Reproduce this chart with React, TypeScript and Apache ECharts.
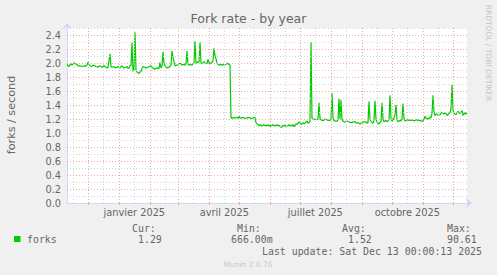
import React, { useEffect, useRef } from "react";
import * as echarts from "echarts";

// ---- data ----
const DAY = 86400000;
const START = Date.UTC(2024, 10, 9, 16);
const END = START + 400 * DAY;

// [day offset from START, forks per second]
const forksLate2024: [number, number][] = [
  [0, 1.98], [1, 1.96], [2, 1.95], [3, 1.98], [4, 1.99], [5, 1.97], [7, 2.0], [8, 1.99], [10, 1.98],
  [11, 1.96], [13, 1.96], [15, 1.95], [17, 1.96], [18, 1.95], [20, 1.97], [21, 2.01], [22, 1.98],
  [23, 1.96], [25, 1.95], [26, 1.97], [28, 1.96], [29, 1.95], [31, 1.94], [32, 1.96], [34, 1.95],
  [35, 1.94], [37, 1.96], [38, 1.95], [40, 1.93], [41, 1.94], [43, 2.13], [44, 1.95], [45, 1.94],
  [47, 1.95], [48, 1.93], [50, 1.94], [51, 1.95], [53, 1.93], [54, 1.95], [55, 1.96], [56, 1.94],
  [57, 1.93], [59, 1.94], [60, 1.95], [61, 1.92], [62, 1.93], [63, 1.96], [64, 1.97], [65, 2.29],
  [66, 1.88], [67, 1.9], [68, 2.44], [69, 1.9], [70, 1.87], [71, 1.86], [72, 1.85], [73, 1.87],
  [74, 1.88], [75, 1.92], [76, 1.95], [78, 1.94], [79, 1.93], [81, 1.94], [82, 1.95], [84, 1.96],
  [85, 1.94], [86, 1.93], [88, 1.91], [89, 1.92], [90, 1.93], [92, 1.92], [93, 2.01], [94, 1.93],
  [95, 1.95], [96, 2.16], [97, 1.99], [98, 1.96], [99, 1.93], [100, 1.94], [101, 1.93], [103, 1.95],
];
const forksSpring2025: [number, number][] = [
  [104, 1.97], [105, 2.17], [106, 2.08], [107, 2.02], [108, 1.96], [110, 1.97], [111, 1.97],
  [112, 1.99], [114, 1.99], [115, 1.97], [116, 1.98], [118, 1.97], [119, 1.99], [120, 2.17],
  [121, 1.98], [122, 1.97], [123, 1.98], [125, 1.97], [126, 1.99], [127, 2.0], [128, 2.31],
  [129, 1.99], [130, 2.0], [131, 2.02], [132, 2.01], [133, 2.3], [134, 2.0], [135, 1.99],
  [136, 2.0], [137, 2.02], [138, 2.0], [140, 1.99], [141, 2.05], [142, 2.01], [143, 1.99],
  [144, 2.0], [145, 2.01], [146, 2.03], [147, 2.21], [148, 2.1], [149, 2.06], [150, 2.0],
  [151, 1.98], [152, 1.97], [154, 1.98], [155, 1.97], [157, 1.98], [158, 1.97], [159, 1.98],
  [160, 2.0], [161, 1.99], [162, 1.98], [163, 1.97], [164, 1.21], [165, 1.22], [167, 1.21],
  [168, 1.22], [170, 1.22], [171, 1.21], [172, 1.24], [173, 1.21], [175, 1.22], [176, 1.22],
  [178, 1.21], [179, 1.21], [181, 1.22], [182, 1.22], [184, 1.21], [185, 1.21], [187, 1.22],
  [188, 1.22],
];
const forksSummer2025: [number, number][] = [
  [189, 1.15], [190, 1.13], [191, 1.12], [192, 1.1], [193, 1.12], [194, 1.11], [195, 1.09],
  [196, 1.11], [197, 1.12], [198, 1.1], [199, 1.11], [200, 1.1], [201, 1.12], [202, 1.1],
  [203, 1.11], [204, 1.09], [205, 1.11], [206, 1.12], [207, 1.1], [208, 1.11], [209, 1.1],
  [210, 1.12], [211, 1.1], [212, 1.11], [213, 1.1], [214, 1.08], [215, 1.09], [216, 1.11],
  [217, 1.1], [218, 1.11], [219, 1.09], [220, 1.1], [221, 1.1], [222, 1.12], [223, 1.1],
  [224, 1.11], [225, 1.1], [226, 1.12], [227, 1.09], [228, 1.11], [229, 1.13], [230, 1.12],
  [231, 1.14], [232, 1.16], [233, 1.14], [234, 1.12], [235, 1.13], [236, 1.15], [237, 1.13],
  [238, 1.14], [239, 1.16], [240, 1.17], [241, 1.14], [242, 1.15], [243, 1.17], [244, 2.3],
  [245, 1.21], [246, 1.2], [247, 1.19], [248, 1.2], [250, 1.19], [251, 1.2], [252, 1.43],
  [253, 1.21], [254, 1.19], [255, 1.18], [257, 1.18], [258, 1.2], [260, 1.19], [261, 1.18],
  [263, 1.18], [264, 1.2], [265, 1.57], [266, 1.21], [267, 1.18], [268, 1.17], [270, 1.17],
  [271, 1.19], [272, 1.49], [273, 1.2], [274, 1.47], [275, 1.19], [276, 1.17], [277, 1.16],
  [279, 1.16], [280, 1.17], [282, 1.16], [283, 1.15], [285, 1.15], [286, 1.16], [288, 1.16],
];
const forksAutumn2025: [number, number][] = [
  [289, 1.14], [291, 1.15], [292, 1.14], [293, 1.13], [294, 1.14], [296, 1.15], [297, 1.16],
  [299, 1.16], [300, 1.14], [301, 1.15], [302, 1.45], [303, 1.2], [304, 1.17], [305, 1.15],
  [306, 1.14], [307, 1.18], [308, 1.46], [309, 1.2], [310, 1.16], [311, 1.14], [312, 1.13],
  [313, 1.15], [314, 1.16], [315, 1.43], [316, 1.2], [317, 1.16], [318, 1.17], [319, 1.18],
  [320, 1.16], [321, 1.17], [322, 1.2], [323, 1.54], [324, 1.2], [325, 1.17], [326, 1.19],
  [327, 1.22], [328, 1.26], [329, 1.4], [330, 1.2], [331, 1.16], [332, 1.17], [333, 1.18],
  [334, 1.17], [335, 1.2], [336, 1.42], [337, 1.2], [338, 1.17], [339, 1.18], [341, 1.19],
  [342, 1.18], [344, 1.18], [345, 1.19], [347, 1.17], [348, 1.18], [350, 1.19], [351, 1.18],
  [353, 1.18], [354, 1.17], [356, 1.17], [357, 1.2], [358, 1.24], [359, 1.21], [360, 1.2],
  [361, 1.21], [362, 1.2], [363, 1.23], [364, 1.22], [365, 1.28], [366, 1.54], [367, 1.3],
  [368, 1.25], [369, 1.27], [370, 1.27], [371, 1.25], [373, 1.26], [374, 1.28], [375, 1.3],
  [376, 1.28], [377, 1.27], [378, 1.29], [379, 1.28], [380, 1.25], [381, 1.26], [382, 1.28],
  [383, 1.29], [384, 1.35], [385, 1.69], [386, 1.33], [387, 1.28], [388, 1.27], [389, 1.26],
  [390, 1.29], [391, 1.31], [392, 1.29], [393, 1.28], [394, 1.3], [395, 1.32], [396, 1.25],
  [397, 1.27], [398, 1.29], [399, 1.27], [400, 1.29],
];

// x axis label months: [year, monthIndex]
const xLabelMonths: [number, number][] = [[2025, 0], [2025, 3], [2025, 6], [2025, 9]];
const xLabels = ["janvier 2025", "avril 2025", "juillet 2025", "octobre 2025"];

// grid months (month starts in red, mid-months in gray)
const gridMonths: [number, number][] = [
  [2024, 10], [2024, 11], [2025, 0], [2025, 1], [2025, 2], [2025, 3], [2025, 4], [2025, 5],
  [2025, 6], [2025, 7], [2025, 8], [2025, 9], [2025, 10], [2025, 11],
];

const Y_MAX = 2.5;
const Y_STEP = 0.1;

const legendHeaders = ["Cur:", "Min:", "Avg:", "Max:"];
const legendValues = ["1.29", "666.00m", "1.52", "90.61"];
const seriesName = "forks";
const titleText = "Fork rate - by year";
const yAxisName = "forks / second";
const lastUpdate = "Last update: Sat Dec 13 00:00:13 2025";
const muninVersion = "Munin 2.0.76";
const rrdCredit = "RRDTOOL / TOBI OETIKER";

// ---- styles ----
const FONT = "DejaVu Sans";
const MONO = "DejaVu Sans Mono";
const TEXT = "#666666";
const AXIS = "#CFD6F8";
const MGRID = "#EBAAAA";
const GRID = "#D4D4D4";
const LINE = "#00CC00";
const DASH = [1, 2];

function buildOption() {
  const data = [...forksLate2024, ...forksSpring2025, ...forksSummer2025, ...forksAutumn2025].map(
    ([d, v]) => [START + d * DAY, v]
  );
  const labelValues = xLabelMonths.map(([y, m]) => Date.UTC(y, m, 16));
  const monthStarts = gridMonths.map(([y, m]) => Date.UTC(y, m, 1)).filter((t) => t > START && t < END);
  const midMonths = gridMonths.map(([y, m]) => Date.UTC(y, m, 15, 12)).filter((t) => t > START && t < END);

  const gridLines: any[] = [];
  const steps = Math.round(Y_MAX / Y_STEP);
  for (let i = 1; i <= steps; i++) {
    if (i % 2 === 1) gridLines.push({ yAxis: +(i * Y_STEP).toFixed(2), lineStyle: { color: GRID, type: DASH, width: 1 } });
  }
  midMonths.forEach((t) => gridLines.push({ xAxis: t, lineStyle: { color: GRID, type: DASH, width: 1 } }));
  for (let i = 1; i <= steps; i++) {
    if (i % 2 === 0) gridLines.push({ yAxis: +(i * Y_STEP).toFixed(2), lineStyle: { color: MGRID, type: DASH, width: 1 } });
  }
  monthStarts.forEach((t) => gridLines.push({ xAxis: t, lineStyle: { color: MGRID, type: DASH, width: 1 } }));

  const legendX = [132, 237, 342, 447];
  const valueX = [138, 231, 348, 447];

  const graphics: any[] = [
    {
      type: "text", x: 248.5, y: 18.5,
      style: { text: titleText, font: `12.5px '${FONT}'`, fill: TEXT, textAlign: "center", textVerticalAlign: "middle" },
    },
    {
      type: "text", x: 11, y: 115, rotation: Math.PI / 2,
      style: { text: yAxisName, font: `11.2px '${FONT}'`, fill: TEXT, textAlign: "center", textVerticalAlign: "middle" },
    },
    {
      type: "text", x: 488, y: 53, rotation: -Math.PI / 2,
      style: { text: rrdCredit, font: `7.5px '${FONT}'`, fill: "#C4C4C4", textAlign: "center", textVerticalAlign: "middle" },
    },
    { type: "rect", shape: { x: 14, y: 236, width: 6.5, height: 6 }, style: { fill: LINE } },
    {
      type: "text", x: 27, y: 239.5,
      style: { text: seriesName, font: `9.9px '${MONO}'`, fill: TEXT, textAlign: "left", textVerticalAlign: "middle" },
    },
    {
      type: "text", x: 262, y: 251.5,
      style: { text: lastUpdate, font: `9.9px '${MONO}'`, fill: TEXT, textAlign: "left", textVerticalAlign: "middle" },
    },
    {
      type: "text", x: 248, y: 264.5,
      style: { text: muninVersion, font: `7.5px '${FONT}'`, fill: "#C8C8C8", textAlign: "center", textVerticalAlign: "middle" },
    },
  ];
  legendHeaders.forEach((h, i) =>
    graphics.push({
      type: "text", x: legendX[i], y: 228,
      style: { text: h, font: `9.9px '${MONO}'`, fill: TEXT, textAlign: "left", textVerticalAlign: "middle" },
    })
  );
  legendValues.forEach((v, i) =>
    graphics.push({
      type: "text", x: valueX[i], y: 239.5,
      style: { text: v, font: `9.9px '${MONO}'`, fill: TEXT, textAlign: "left", textVerticalAlign: "middle" },
    })
  );

  return {
    animation: false,
    backgroundColor: "#F0F0F0",
    grid: { left: 67, top: 28, width: 400, height: 175, show: true, backgroundColor: "#FFFFFF", borderWidth: 0 },
    xAxis: {
      type: "value",
      min: START,
      max: END,
      axisLine: {
        show: true,
        lineStyle: { color: AXIS, width: 1 },
        symbol: ["none", "arrow"],
        symbolSize: [7, 6],
        symbolOffset: [0, 5],
      },
      axisTick: { show: true, customValues: monthStarts, length: 2, lineStyle: { color: MGRID } },
      axisLabel: {
        customValues: labelValues,
        formatter: (v: number) => {
          const i = labelValues.findIndex((t) => Math.abs(t - v) < DAY);
          return i >= 0 ? xLabels[i] : "";
        },
        color: TEXT,
        fontFamily: FONT,
        fontSize: 9.8,
        margin: 4,
      },
      splitLine: { show: false },
    },
    yAxis: {
      type: "value",
      min: 0,
      max: Y_MAX,
      interval: Y_STEP,
      axisLine: {
        show: true,
        lineStyle: { color: AXIS, width: 1 },
        symbol: ["none", "arrow"],
        symbolSize: [7, 6],
        symbolOffset: [0, 5],
      },
      axisTick: { show: false },
      axisLabel: {
        formatter: (v: number) => (Math.round(v * 10) % 2 === 0 ? v.toFixed(1) : ""),
        color: TEXT,
        fontFamily: FONT,
        fontSize: 9.8,
        margin: 6,
      },
      splitLine: { show: false },
    },
    series: [
      {
        type: "line",
        data: [],
        z: 1,
        silent: true,
        markLine: { silent: true, symbol: ["none", "none"], label: { show: false }, animation: false, data: gridLines },
      },
      {
        type: "line",
        name: seriesName,
        data,
        z: 3,
        symbol: "none",
        lineStyle: { color: LINE, width: 1.2 },
      },
    ],
    graphic: graphics,
  };
}

export default function App() {
  const ref = useRef<HTMLDivElement>(null);
  useEffect(() => {
    document.body.style.margin = "0";
    const chart = echarts.init(ref.current!, null, { renderer: "svg" });
    chart.setOption(buildOption() as any);
    return () => chart.dispose();
  }, []);
  return <div ref={ref} style={{ width: 497, height: 275 }} />;
}
